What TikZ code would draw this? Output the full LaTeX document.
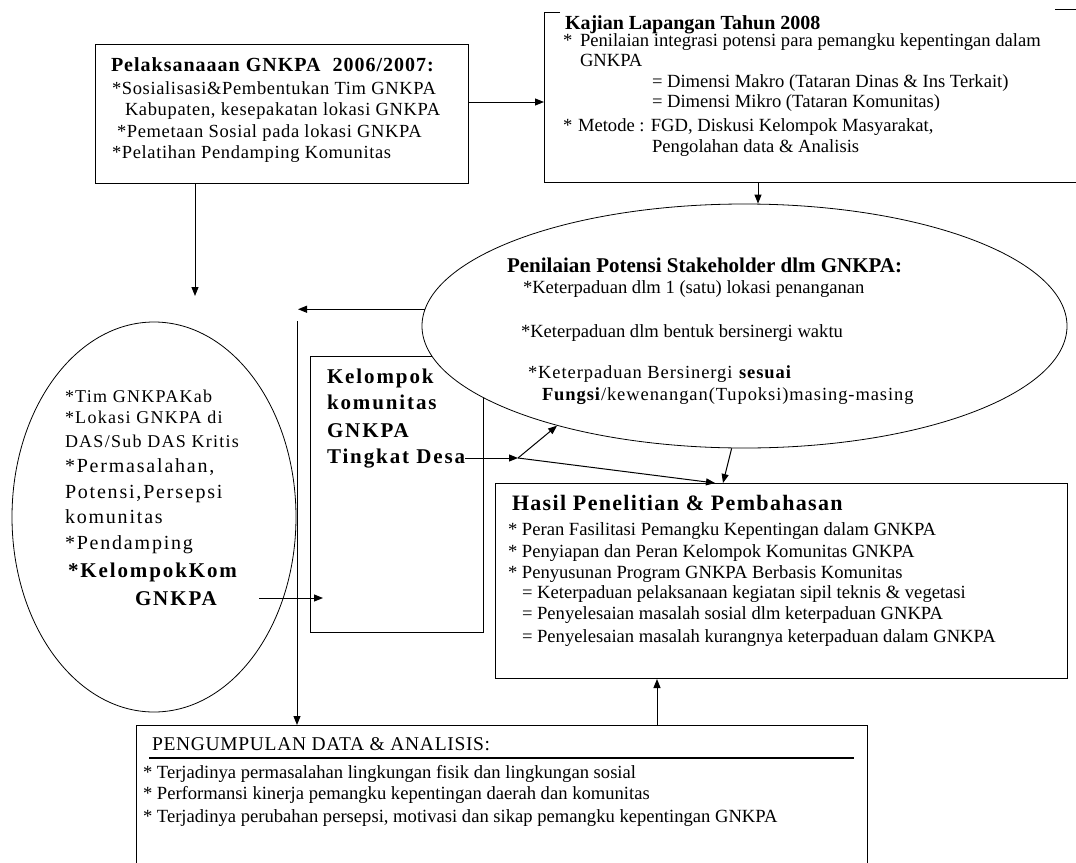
\documentclass[tikz,border=0pt]{standalone}
\usepackage{fontspec}
\setmainfont{Liberation Serif}
\newfontfamily\wsA[LetterSpace=3.5]{Liberation Serif}
\newfontfamily\wsB[LetterSpace=5]{Liberation Serif}
\newfontfamily\wsC[LetterSpace=7]{Liberation Serif}
\newfontfamily\wsD[LetterSpace=9]{Liberation Serif}
\newfontfamily\wsE[LetterSpace=6]{Liberation Serif}
\usetikzlibrary{shapes.geometric,arrows.meta}
\newcommand\fsz[1]{\fontsize{#1}{#1}\selectfont}
\tikzset{
  box/.style={draw, line width=1pt, inner sep=0pt, anchor=north west},
  txt/.style={anchor=base west, inner sep=0pt, outer sep=0pt},
  arr/.style={line width=1pt, -{Triangle[length=9pt,width=7pt]}},
  ell/.style={draw, ellipse, line width=0.8pt, inner sep=0pt},
  body/.style={txt, font=\fsz{18.6}},
}
\begin{document}
\begin{tikzpicture}[x=1pt,y=-1pt]
\useasboundingbox[fill=white] (0,0) rectangle (1076,862);

% ---------- box 1 ----------
\node[box, minimum width=373pt, minimum height=139pt] (b1) at (95,44) {};
\node[txt, font=\wsB\bfseries\fsz{20}] (b1t) at (111,71) {Pelaksanaaan GNKPA\ \ 2006/2007:};
\node[txt, font=\wsA\fsz{18.5}] (b1a) at (112,94) {*Sosialisasi\&Pembentukan Tim GNKPA};
\node[txt, font=\wsA\fsz{18.5}] (b1b) at (125,115) {Kabupaten, kesepakatan lokasi GNKPA};
\node[txt, font=\wsA\fsz{18.5}] (b1c) at (117,137) {*Pemetaan Sosial pada lokasi GNKPA};
\node[txt, font=\wsA\fsz{18.5}] (b1d) at (112,158) {*Pelatihan Pendamping Komunitas};

% ---------- Kajian ----------
\node[inner sep=0pt, anchor=north west, minimum width=532pt, minimum height=170pt] (kaj) at (544,12) {};
\draw[line width=1pt] ([xshift=16pt]kaj.north west) -- (kaj.north west) -- (kaj.south west) -- (kaj.south east);
\draw[line width=1pt] ([xshift=511pt,yshift=3pt]kaj.north west) -- ([yshift=3pt]kaj.north east);
\node[txt, font=\bfseries\fsz{20}] (k0) at (565,29) {Kajian Lapangan Tahun 2008};
\node[body] (k1s) at (563,46) {*};
\node[body] (k1) at (580,46) {Penilaian integrasi potensi para pemangku kepentingan dalam};
\node[body] (k2) at (580,66) {GNKPA};
\node[body] (k3) at (652,87) {= Dimensi Makro (Tataran Dinas \& Ins Terkait)};
\node[body] (k4) at (652,107) {= Dimensi Mikro (Tataran Komunitas)};
\node[body] (k5s) at (563,131) {*};
\node[body] (k5) at (578,131) {Metode : FGD, Diskusi Kelompok Masyarakat,};
\node[body] (k6) at (652,152) {Pengolahan data \& Analisis};

% ---------- Kelompok box ----------
\node[box, minimum width=173pt, minimum height=276pt] (kel) at (310,356) {};
\node[txt, font=\wsD\bfseries\fsz{21}] (kl1) at (327,383) {Kelompok};
\node[txt, font=\wsD\bfseries\fsz{21}] (kl2) at (327,409) {komunitas};
\node[txt, font=\wsD\bfseries\fsz{21}] (kl3) at (327,437) {GNKPA};
\node[txt, font=\wsD\bfseries\fsz{21}] (desa) at (327,463) {Tingkat Desa};

% ---------- Penilaian ellipse ----------
\node[ell, fill=white, minimum width=645pt, minimum height=244pt] (pen) at (744.5,326) {};
\node[txt, font=\bfseries\fsz{21}] (p0) at (507,272) {Penilaian Potensi Stakeholder dlm GNKPA:};
\node[body] (p1) at (523,293) {*Keterpaduan dlm 1 (satu) lokasi penanganan};
\node[body] (p2) at (521,337) {*Keterpaduan dlm bentuk bersinergi waktu};
\node[txt, font=\wsB\fsz{18.5}] (p3) at (528,378) {*Keterpaduan Bersinergi \textbf{sesuai}};
\node[txt, font=\wsB\fsz{18.5}] (p4) at (542,400) {\textbf{Fungsi}/kewenangan(Tupoksi)masing-masing};

% ---------- left ellipse ----------
\node[ell, minimum width=284pt, minimum height=390pt] (lel) at (154,517) {};
\node[txt, font=\wsC\fsz{18}] (l1) at (65,402) {*Tim GNKPAKab};
\node[txt, font=\wsC\fsz{18}] (l2) at (65,423) {*Lokasi GNKPA di};
\node[txt, font=\wsC\fsz{18}] (l3) at (65,447) {DAS/Sub DAS Kritis};
\node[txt, font=\wsD\fsz{20}] (l4) at (65,472) {*Permasalahan,};
\node[txt, font=\wsD\fsz{20}] (l5) at (65,498) {Potensi,Persepsi};
\node[txt, font=\wsD\fsz{20}] (l6) at (65,523) {komunitas};
\node[txt, font=\wsD\fsz{20}] (l7) at (65,549) {*Pendamping};
\node[txt, font=\wsD\bfseries\fsz{21}] (l8) at (68,577) {*KelompokKom};
\node[txt, font=\wsD\bfseries\fsz{21}] (l9) at (135,605) {GNKPA};

% ---------- Hasil box ----------
\node[box, minimum width=572pt, minimum height=195pt] (has) at (495,483) {};
\node[txt, font=\wsE\bfseries\fsz{22}] (h0) at (512,510) {Hasil Penelitian \& Pembahasan};
\node[body] (h1) at (508,535) {* Peran Fasilitasi Pemangku Kepentingan dalam GNKPA};
\node[body] (h2) at (508,557) {* Penyiapan dan Peran Kelompok Komunitas GNKPA};
\node[body] (h3) at (508,578) {* Penyusunan Program GNKPA Berbasis Komunitas};
\node[body] (h4) at (522,598) {= Keterpaduan pelaksanaan kegiatan sipil teknis \& vegetasi};
\node[body] (h5) at (522,619) {= Penyelesaian masalah sosial dlm keterpaduan GNKPA};
\node[body] (h6) at (522,642) {= Penyelesaian masalah kurangnya keterpaduan dalam GNKPA};

% ---------- bottom box ----------
\node[box, minimum width=731pt, minimum height=150pt] (bot) at (136,725) {};
\node[txt, font=\wsA\fsz{19.5}] (g0) at (152,750) {PENGUMPULAN DATA \& ANALISIS:};
\draw[line width=2pt] (149,758) -- (854,758);
\node[body] (g1) at (143,778) {* Terjadinya permasalahan lingkungan fisik dan lingkungan sosial};
\node[body] (g2) at (143,799) {* Performansi kinerja pemangku kepentingan daerah dan komunitas};
\node[body] (g3) at (143,822) {* Terjadinya perubahan persepsi, motivasi dan sikap pemangku kepentingan GNKPA};

% ---------- connectors ----------
\coordinate (b1end) at (195,296);
\coordinate (lt) at (298,309);
\coordinate (vtop) at (297,321);
\coordinate (ls) at (259,598);
\coordinate (lt2) at (323,598);
\coordinate (J) at (518,458);

\draw[arr] (b1.east |- 0,102) -- (kaj.west |- 0,102);
\draw[arr] (kaj.south -| 758,0) -- (pen.north -| 758,0);
\draw[arr] (b1.south -| b1end) -- (b1end);
\draw[arr] (pen.177) -- (pen.177 -| lt);
\draw[arr] (vtop) -- (vtop |- bot.north);
\draw[arr] (ls) -- (lt2);
\draw[arr] (desa.east |- J) -- (J);
\draw[arr] (J) -- (pen.208);
\draw[arr] (J) -- (has.north -| 715,0);
\draw[arr] (pen.264) -- (has.north -| 723,0);
\draw[arr] (bot.north -| 657,0) -- (has.south -| 657,0);
\end{tikzpicture}
\end{document}
